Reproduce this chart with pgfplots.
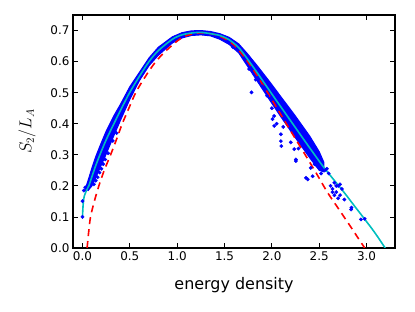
\documentclass[border=0pt]{standalone}
\usepackage{pgfplots}
\pgfplotsset{compat=1.18}
\usepackage{fontspec}
\setmainfont{DejaVu Sans}
\definecolor{mplblue}{rgb}{0,0,1}
\definecolor{mplcyan}{rgb}{0,0.75,0.75}
\definecolor{mplred}{rgb}{1,0,0}
\begin{document}
\begin{tikzpicture}
\begin{axis}[
  scale only axis,
  width=322bp, height=233bp,
  xmin=-0.1, xmax=3.3, ymin=0, ymax=0.75,
  xtick={0,0.5,1,1.5,2,2.5,3},
  ytick={0,0.1,0.2,0.3,0.4,0.5,0.6,0.7},
  /pgf/number format/assume math mode=true,
  xticklabel style={/pgf/number format/.cd,fixed,fixed zerofill,precision=1},
  yticklabel style={/pgf/number format/.cd,fixed,fixed zerofill,precision=1},
  ticklabel style={font=\fontsize{12}{14}\selectfont},
  tick align=inside,
  major tick length=5bp,
  every tick/.style={black, line width=0.8bp},
  axis line style={line width=1.2bp},
  xlabel={energy density},
  ylabel={$S_2/L_A$},
  xlabel style={font=\fontsize{16}{18}\selectfont, at={(axis description cs:0.5,-0.16)}, anchor=center},
  ylabel style={font=\fontsize{16}{18}\selectfont, at={(axis description cs:-0.143,0.5)}, anchor=center, rotate=0},
  clip=true,
]
% dense band of numerical data (upper edge, then lower edge back)
\addplot[fill=mplblue, draw=mplblue, line width=1bp] coordinates {
(0.03,0.19) (0.07,0.228) (0.1,0.258) (0.14,0.294) (0.184,0.328) (0.25,0.376)
(0.332,0.426) (0.4,0.462) (0.498,0.518) (0.6,0.565) (0.703,0.612) (0.8,0.646)
(0.95,0.68) (1.05,0.693) (1.15,0.699) (1.25,0.7) (1.35,0.697) (1.45,0.69)
(1.55,0.678) (1.65,0.657) (1.743,0.625) (1.85,0.585) (1.99,0.53) (2.1,0.485)
(2.236,0.43) (2.4,0.36) (2.5,0.31) (2.55,0.275)
(2.55,0.245) (2.5,0.25) (2.4,0.29) (2.236,0.36) (2.1,0.42) (1.99,0.47)
(1.85,0.535) (1.743,0.585) (1.65,0.628) (1.55,0.655) (1.45,0.672) (1.35,0.683)
(1.25,0.686) (1.15,0.684) (1.05,0.676) (0.95,0.66) (0.8,0.62) (0.703,0.587)
(0.6,0.538) (0.498,0.477) (0.4,0.41) (0.332,0.362) (0.25,0.302) (0.184,0.257)
(0.14,0.226) (0.1,0.2) (0.06,0.185)
} -- cycle;
% scattered points
\addplot[only marks, mark=*, mark size=1.7bp, color=mplblue] coordinates {
(0.0,0.10) (0.0,0.151) (0.015,0.185) (0.03,0.195)
(0.12,0.205) (0.16,0.228) (0.2,0.255) (0.24,0.285) (0.32,0.345) (0.36,0.37)
(0.14,0.217) (0.18,0.243) (0.22,0.27) (0.27,0.305)
(1.59,0.646) (1.76,0.576) (1.785,0.501) (1.83,0.542) (1.9,0.52)
(2.007,0.415) (2.024,0.425) (2.024,0.393) (2.0,0.45) (1.95,0.49)
(2.095,0.366) (2.095,0.344) (2.10,0.328) (2.05,0.4) (2.12,0.39)
(2.236,0.318) (2.254,0.285) (2.254,0.28) (2.2,0.34) (2.28,0.32)
(2.36,0.226) (2.378,0.221) (2.41,0.258) (2.43,0.231) (2.48,0.264)
(2.45,0.27) (2.52,0.24) (2.56,0.25) (2.58,0.255) (2.6,0.24)
(2.62,0.2) (2.64,0.19) (2.66,0.21) (2.68,0.18) (2.70,0.2) (2.72,0.17)
(2.74,0.19) (2.66,0.17) (2.70,0.16) (2.64,0.18) (2.68,0.2) (2.72,0.205)
(2.765,0.156) (2.836,0.124) (2.84,0.13) (2.94,0.092) (2.98,0.094)
};
% red dashed curve
\addplot[mplred, line width=1.6bp, dash pattern=on 7bp off 5bp, smooth] coordinates {
(0.049,0) (0.065,0.05) (0.085,0.1) (0.125,0.15) (0.173,0.2) (0.23,0.25)
(0.297,0.3) (0.36,0.35) (0.42,0.4) (0.49,0.45) (0.562,0.5) (0.66,0.55)
(0.774,0.6) (0.9,0.64) (1.04,0.675) (1.15,0.688) (1.27,0.693) (1.42,0.685)
(1.566,0.662) (1.69,0.622) (1.81,0.571) (1.94,0.508) (2.06,0.447) (2.2,0.376)
(2.36,0.296) (2.47,0.24) (2.589,0.178) (2.7,0.128) (2.85,0.06) (2.98,0)
};
% cyan curve
\addplot[mplcyan, line width=1.6bp, smooth] coordinates {
(0,0.1) (0.004,0.125) (0.01,0.15) (0.02,0.168) (0.035,0.18) (0.05,0.19)
(0.067,0.2) (0.1,0.23) (0.14,0.265) (0.184,0.3) (0.25,0.348) (0.332,0.4)
(0.4,0.442) (0.498,0.5) (0.6,0.552) (0.703,0.6) (0.8,0.635) (0.95,0.672)
(1.05,0.686) (1.15,0.692) (1.25,0.694) (1.35,0.69) (1.45,0.684) (1.55,0.67)
(1.65,0.645) (1.743,0.608) (1.85,0.562) (1.99,0.5) (2.1,0.452) (2.236,0.393)
(2.4,0.322) (2.537,0.264) (2.65,0.221) (2.765,0.178) (2.87,0.136) (2.977,0.094)
(3.09,0.048) (3.196,0)
};
\end{axis}
\path ([shift={(-73bp,-64bp)}]current axis.south west) rectangle ([shift={(20bp,15bp)}]current axis.north east);
\end{tikzpicture}
\end{document}
